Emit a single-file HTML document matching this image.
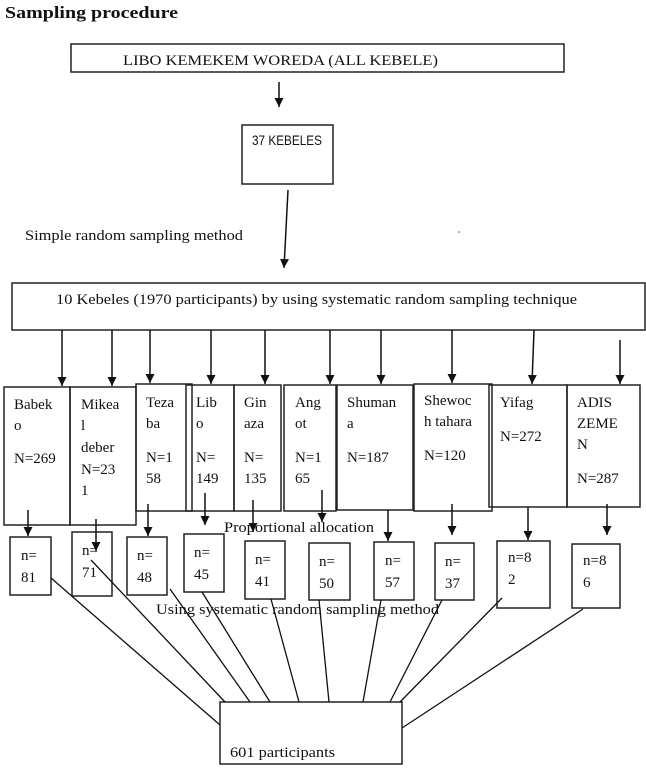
<!DOCTYPE html>
<html><head><meta charset="utf-8"><style>
html,body{margin:0;padding:0;background:#fff}
svg{display:block}
text{font-family:"Liberation Serif",serif;fill:#111}
</style></head><body>
<svg width="646" height="769" viewBox="0 0 646 769" xmlns="http://www.w3.org/2000/svg">
<defs><marker id="a" markerWidth="9" markerHeight="9" refX="9" refY="4.5" orient="auto" markerUnits="userSpaceOnUse"><path d="M0,0 L9,4.5 L0,9 z" fill="#111"/></marker></defs>
<g stroke="#222" stroke-width="1.5" fill="none">
<rect x="71" y="44" width="493" height="28"/>
<rect x="242" y="125" width="91" height="59"/>
<rect x="12" y="283" width="633" height="47"/>
<rect x="4" y="387" width="66" height="138"/>
<rect x="70" y="387" width="66" height="138"/>
<rect x="136" y="384" width="56" height="127"/>
<rect x="186" y="385" width="48" height="126"/>
<rect x="234" y="385" width="47" height="126"/>
<rect x="284" y="385" width="52" height="126"/>
<rect x="337" y="385" width="76" height="125"/>
<rect x="414" y="384" width="78" height="127"/>
<rect x="489" y="385" width="78" height="122"/>
<rect x="567" y="385" width="73" height="122"/>
<rect x="10" y="537" width="41" height="58"/>
<rect x="72" y="532" width="40" height="64"/>
<rect x="127" y="537" width="40" height="58"/>
<rect x="184" y="534" width="40" height="58"/>
<rect x="245" y="541" width="40" height="58"/>
<rect x="309" y="543" width="41" height="57"/>
<rect x="374" y="542" width="40" height="58"/>
<rect x="435" y="543" width="39" height="57"/>
<rect x="497" y="541" width="53" height="67"/>
<rect x="572" y="544" width="48" height="64"/>
<rect x="220" y="702" width="182" height="62"/>
</g>
<g stroke="#111" stroke-width="1.5" marker-end="url(#a)">
<line x1="279" y1="82" x2="279" y2="107"/>
<line x1="288" y1="190" x2="284" y2="268"/>
<line x1="62" y1="330" x2="62" y2="386"/>
<line x1="112" y1="330" x2="112" y2="386"/>
<line x1="150" y1="330" x2="150" y2="383"/>
<line x1="211" y1="330" x2="211" y2="384"/>
<line x1="265" y1="330" x2="265" y2="384"/>
<line x1="330" y1="330" x2="330" y2="384"/>
<line x1="381" y1="330" x2="381" y2="384"/>
<line x1="452" y1="330" x2="452" y2="383"/>
<line x1="534" y1="330" x2="532" y2="384"/>
<line x1="620" y1="340" x2="620" y2="384"/>
<line x1="28" y1="510" x2="28" y2="536"/>
<line x1="96" y1="519" x2="96" y2="551"/>
<line x1="148" y1="504" x2="148" y2="536"/>
<line x1="205" y1="493" x2="205" y2="525"/>
<line x1="253" y1="500" x2="253" y2="532"/>
<line x1="322" y1="490" x2="322" y2="522"/>
<line x1="388" y1="510" x2="388" y2="541"/>
<line x1="452" y1="504" x2="452" y2="535"/>
<line x1="528" y1="507" x2="528" y2="540"/>
<line x1="607" y1="504" x2="607" y2="535"/>
</g>
<g stroke="#111" stroke-width="1.3">
<line x1="51" y1="578" x2="220" y2="725"/>
<line x1="91" y1="560" x2="225" y2="702"/>
<line x1="170" y1="589" x2="250" y2="702"/>
<line x1="202" y1="592" x2="270" y2="702"/>
<line x1="271" y1="599" x2="299" y2="702"/>
<line x1="319" y1="600" x2="329" y2="702"/>
<line x1="381" y1="600" x2="363" y2="702"/>
<line x1="442" y1="600" x2="390" y2="702"/>
<line x1="502" y1="598" x2="400" y2="702"/>
<line x1="583" y1="609" x2="402" y2="728"/>
</g>
<text x="5" y="18" font-size="17" font-weight="bold" textLength="173" lengthAdjust="spacingAndGlyphs">Sampling procedure</text>
<text x="123" y="65" font-size="15" textLength="315" lengthAdjust="spacingAndGlyphs">LIBO KEMEKEM WOREDA (ALL KEBELE)</text>
<text x="252" y="145" font-size="14" style="font-family:'Liberation Sans',sans-serif" textLength="70" lengthAdjust="spacingAndGlyphs">37 KEBELES</text>
<text x="25" y="240" font-size="15" textLength="218" lengthAdjust="spacingAndGlyphs">Simple random sampling method</text>
<text x="56" y="304" font-size="15" textLength="521" lengthAdjust="spacingAndGlyphs">10 Kebeles (1970 participants) by using systematic random sampling technique</text>
<g font-size="15">
<text x="14" y="409">Babek</text><text x="14" y="430">o</text><text x="14" y="463">N=269</text>
<text x="81" y="409">Mikea</text><text x="81" y="430">l</text><text x="81" y="452">deber</text><text x="81" y="474">N=23</text><text x="81" y="495">1</text>
<text x="146" y="407">Teza</text><text x="146" y="428">ba</text><text x="146" y="462">N=1</text><text x="146" y="483">58</text>
<text x="196" y="407">Lib</text><text x="196" y="428">o</text><text x="196" y="462">N=</text><text x="196" y="483">149</text>
<text x="244" y="407">Gin</text><text x="244" y="428">aza</text><text x="244" y="462">N=</text><text x="244" y="483">135</text>
<text x="295" y="407">Ang</text><text x="295" y="428">ot</text><text x="295" y="462">N=1</text><text x="295" y="483">65</text>
<text x="347" y="407">Shuman</text><text x="347" y="428">a</text><text x="347" y="462">N=187</text>
<text x="424" y="405">Shewoc</text><text x="424" y="426">h tahara</text><text x="424" y="460">N=120</text>
<text x="500" y="407">Yifag</text><text x="500" y="441">N=272</text>
<text x="577" y="407">ADIS</text><text x="577" y="428">ZEME</text><text x="577" y="449">N</text><text x="577" y="483">N=287</text>
<text x="224" y="532" textLength="150" lengthAdjust="spacingAndGlyphs">Proportional allocation</text>
<text x="21" y="560">n=</text><text x="21" y="582">81</text>
<text x="82" y="555">n=</text><text x="82" y="577">71</text>
<text x="137" y="560">n=</text><text x="137" y="582">48</text>
<text x="194" y="557">n=</text><text x="194" y="579">45</text>
<text x="255" y="564">n=</text><text x="255" y="586">41</text>
<text x="319" y="566">n=</text><text x="319" y="588">50</text>
<text x="385" y="565">n=</text><text x="385" y="587">57</text>
<text x="445" y="566">n=</text><text x="445" y="588">37</text>
<text x="508" y="562">n=8</text><text x="508" y="584">2</text>
<text x="583" y="565">n=8</text><text x="583" y="587">6</text>
<text x="156" y="614" textLength="283" lengthAdjust="spacingAndGlyphs">Using systematic random sampling method</text>
<text x="230" y="757" textLength="105" lengthAdjust="spacingAndGlyphs">601 participants</text>
</g>
<circle cx="459" cy="232" r="0.8" fill="#555"/>
</svg>
</body></html>
